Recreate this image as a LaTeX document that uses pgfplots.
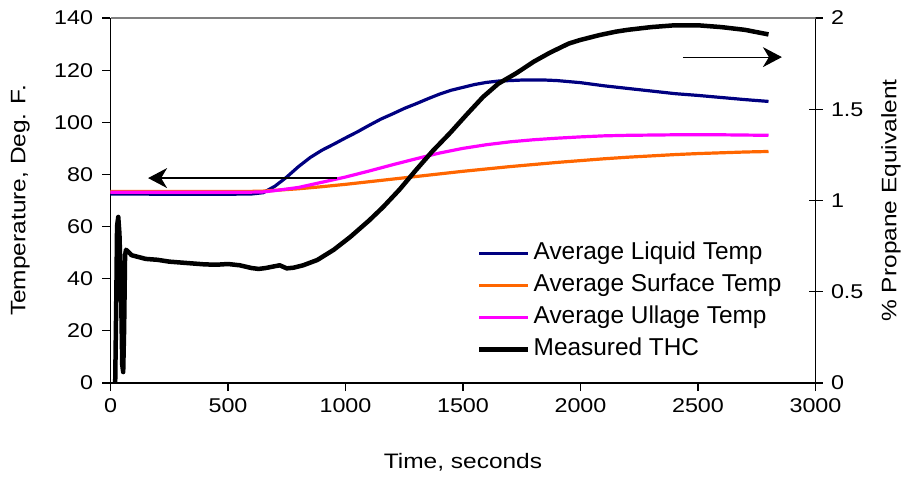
\documentclass[border=0pt]{standalone}
\usepackage{fontspec}
\setmainfont{Liberation Sans}
\newfontfamily\stretchfont{Liberation Sans}[FakeStretch=1.17]
\usepackage{pgfplots}
\pgfplotsset{compat=1.18}
\usetikzlibrary{arrows.meta}
\definecolor{liqcol}{RGB}{0,0,128}
\definecolor{surfcol}{RGB}{255,102,0}
\definecolor{ullcol}{RGB}{255,0,255}
\newcommand\tickfont{\stretchfont\fontsize{20}{24}\selectfont}
\newcommand\labfont{\stretchfont\fontsize{21}{25}\selectfont}
\newcommand\legfont{\fontsize{24.5}{29}\selectfont}
\begin{document}
\begin{tikzpicture}
\useasboundingbox (-110.5bp,-95bp) rectangle (796.5bp,383bp);
\begin{axis}[
  scale only axis, width=705bp, height=365bp,
  xmin=0, xmax=3000, ymin=0, ymax=140,
  xtick={0,500,...,3000}, ytick={0,20,...,140},
  axis x line*=bottom, axis y line*=left,
  axis line style={line width=1.2bp, black},
  tick style={line width=1.2bp, black},
  tick align=outside, major tick length=8bp,
  tick label style={font=\tickfont},
  xticklabel shift=4bp,
  yticklabel shift=6bp,
  /pgf/number format/assume math mode=true,
  /pgf/number format/1000 sep={},
  xlabel={Time, seconds}, ylabel={Temperature, Deg. F.},
  label style={font=\labfont},
  xlabel style={at={(axis description cs:0.5,-0.218)}, anchor=center},
  ylabel style={at={(axis description cs:-0.128,0.5)}, anchor=center},
]
\addplot[liqcol, line width=3.2bp] coordinates {
(0,72.5)(100,72.5)(200,72.4)(300,72.4)(400,72.4)(500,72.4)(600,72.5)(650,73)(700,75.5)(750,79)(800,83)(850,86.5)(900,89.3)(950,91.6)(1000,94)(1050,96.3)(1100,98.8)(1150,101.2)(1200,103.2)(1250,105.3)(1300,107.1)(1350,109)(1400,110.8)(1450,112.3)(1500,113.4)(1550,114.5)(1600,115.3)(1650,115.8)(1700,116)(1750,116.2)(1800,116.2)(1850,116.2)(1900,116)(1950,115.6)(2000,115.2)(2050,114.6)(2100,114)(2200,113)(2300,112)(2400,111)(2500,110.3)(2600,109.5)(2700,108.7)(2800,108)
};
\addplot[surfcol, line width=3.2bp] coordinates {
(0,73.5)(600,73.5)(650,73.6)(700,73.9)(800,74.5)(900,75.3)(1000,76.2)(1100,77.2)(1200,78.2)(1300,79.2)(1400,80.2)(1500,81.2)(1600,82.1)(1700,83)(1800,83.8)(1900,84.6)(2000,85.3)(2100,86)(2200,86.6)(2300,87.1)(2400,87.6)(2500,88)(2600,88.3)(2700,88.6)(2800,88.8)
};
\addplot[ullcol, line width=3.2bp] coordinates {
(0,73.2)(600,73.2)(650,73.3)(700,73.8)(800,75)(900,77)(1000,79)(1100,81.3)(1200,83.7)(1300,86)(1400,88.2)(1500,90)(1600,91.4)(1700,92.5)(1800,93.3)(1900,93.9)(2000,94.4)(2100,94.8)(2200,95)(2300,95.1)(2400,95.2)(2500,95.2)(2600,95.2)(2700,95.1)(2800,95)
};
\draw[line width=1.2bp, -{Stealth[length=19bp,width=20bp,inset=6bp]}] (axis cs:963,78.6) -- (axis cs:160,78.6);
\draw[line width=1.2bp, -{Stealth[length=19bp,width=20bp,inset=6bp]}] (axis cs:2436,125) -- (axis cs:2857,125);
\end{axis}
\begin{axis}[
  scale only axis, width=705bp, height=365bp,
  xmin=0, xmax=3000, ymin=0, ymax=2,
  axis x line=none, axis y line*=right,
  ytick={0,0.5,1,1.5,2},
  axis line style={line width=1.2bp, black},
  tick style={line width=1.2bp, black},
  tick align=center, major tick length=14bp,
  tick label style={font=\tickfont},
  yticklabel shift=5bp,
  /pgf/number format/assume math mode=true,
  ylabel={\% Propane Equivalent},
  label style={font=\labfont},
  ylabel style={at={(axis description cs:1.107,0.5)}, anchor=center, rotate=0},
  legend style={draw=none, fill=none, at={(0.5194,0.3945)}, anchor=north west, inner sep=0pt, row sep=3.4bp, font=\legfont, nodes={inner sep=3.3bp, text height=17bp, text depth=5bp}},
  legend cell align=left,
  legend image code/.code={\draw[#1] (0bp,0bp) -- (49bp,0bp);},
]
\addlegendimage{liqcol, line width=3.2bp}
\addlegendentry{Average Liquid Temp}
\addlegendimage{surfcol, line width=3.2bp}
\addlegendentry{Average Surface Temp}
\addlegendimage{ullcol, line width=3.2bp}
\addlegendentry{Average Ullage Temp}
\addplot[black, line width=4.5bp, line join=round] coordinates {
(20,0)(25,0.5)(28,0.86)(33,0.91)(38,0.82)(45,0.5)(50,0.1)(54,0.06)(58,0.3)(62,0.7)(66,0.73)(75,0.72)(90,0.70)(120,0.69)(150,0.68)(200,0.675)(250,0.665)(300,0.66)(350,0.655)(400,0.65)(450,0.648)(500,0.652)(550,0.645)(600,0.63)(630,0.625)(660,0.63)(700,0.64)(720,0.645)(750,0.628)(780,0.632)(820,0.645)(880,0.674)(950,0.73)(1020,0.80)(1100,0.89)(1160,0.964)(1230,1.06)(1300,1.167)(1370,1.27)(1445,1.37)(1515,1.47)(1585,1.567)(1650,1.64)(1730,1.70)(1800,1.76)(1870,1.81)(1950,1.86)(2000,1.88)(2083,1.907)(2150,1.925)(2200,1.935)(2300,1.95)(2400,1.96)(2500,1.96)(2600,1.95)(2700,1.935)(2800,1.91)
};
\addlegendentry{Measured THC}
\draw[gray, line width=1.2bp] (rel axis cs:0,1) -- (rel axis cs:1,1);
\end{axis}
\end{tikzpicture}
\end{document}
